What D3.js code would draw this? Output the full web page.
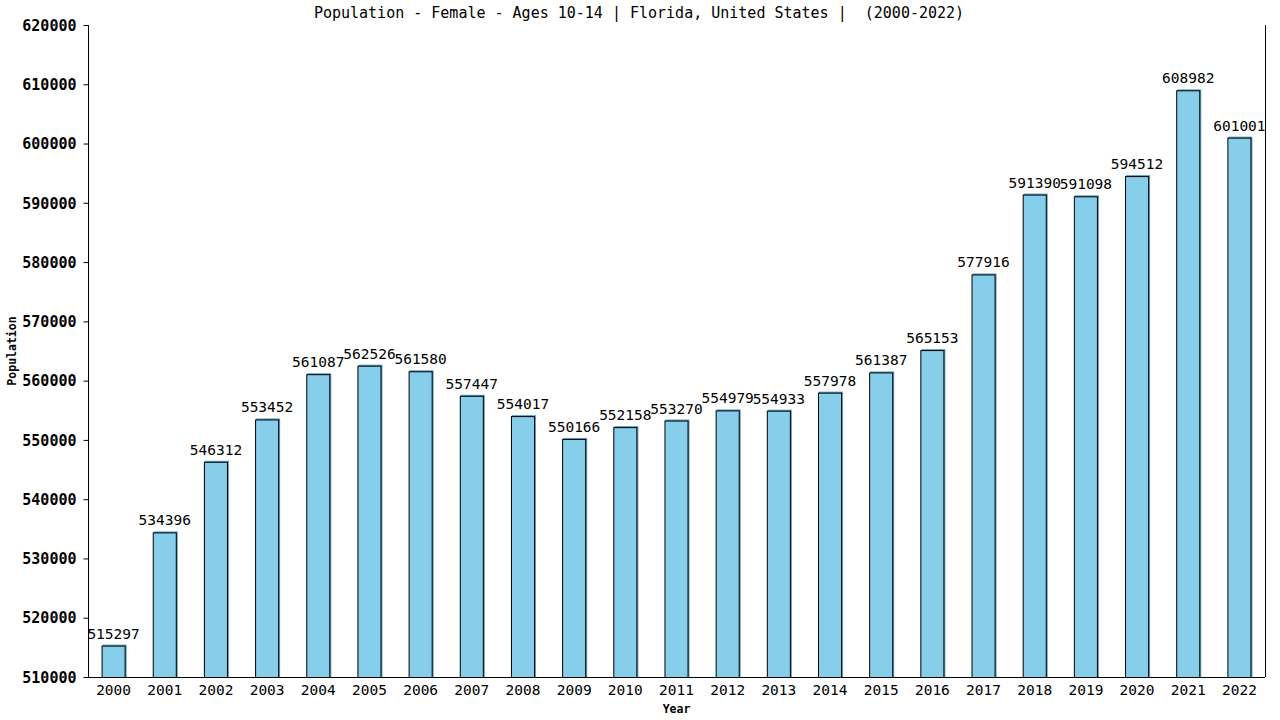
<!DOCTYPE html>
<html>
<head>
<meta charset="utf-8">
<script src="https://cdn.jsdelivr.net/npm/d3@7"></script>
<style>
  body { margin: 0; background: #fff; }
  text { font-family: "DejaVu Sans Mono", monospace; }
</style>
</head>
<body>
<svg width="1280" height="720"></svg>
<script>
// Data
const years = ["2000","2001","2002","2003","2004","2005","2006","2007","2008","2009","2010","2011",
    "2012","2013","2014","2015","2016","2017","2018","2019","2020","2021","2022"]
const population = [515297, 534396, 546312, 553452, 561087, 562526, 561580, 557447, 554017, 550166,
    552158, 553270, 554979, 554933, 557978, 561387, 565153, 577916, 591390, 591098, 594512, 608982, 601001]
const yTicks = [510000, 520000, 530000, 540000, 550000, 560000, 570000, 580000, 590000, 600000, 610000, 620000]

const svg = d3.select("svg")
const plotLeft = 88, plotRight = 1265, plotTop = 25, plotBottom = 677

const x = d3.scaleBand().domain(years).range([plotLeft, plotRight]).paddingInner(0.53).paddingOuter(0.265)
const y = d3.scaleLinear().domain([510000, 620000]).range([plotBottom, plotTop])

// Title
svg.append("text")
    .attr("x", 639).attr("y", 18)
    .attr("text-anchor", "middle")
    .style("font-size", "15px")
    .style("white-space", "pre")
    .text("Population - Female - Ages 10-14 | Florida, United States |  (2000-2022)")

// Bars: shadow then outlined bar
svg.append("g").selectAll("rect")
    .data(population)
    .join("rect")
    .attr("x", (d, i) => x(years[i]) + 1)
    .attr("y", d => y(d) - 1)
    .attr("width", x.bandwidth())
    .attr("height", d => plotBottom - y(d) + 1)
    .attr("fill", "#5f9fbf")

svg.append("g").selectAll("rect")
    .data(population)
    .join("rect")
    .attr("x", (d, i) => x(years[i]) + 0.5)
    .attr("y", d => y(d) + 0.5)
    .attr("width", x.bandwidth() - 1)
    .attr("height", d => plotBottom - y(d))
    .attr("fill", "#87ceeb")
    .attr("stroke", "#000")
    .attr("stroke-width", 1)

// Value labels
svg.append("g").selectAll("text")
    .data(population)
    .join("text")
    .attr("x", (d, i) => x(years[i]) + x.bandwidth() / 2)
    .attr("y", d => y(d) - 7)
    .attr("text-anchor", "middle")
    .style("font-size", "14.5px")
    .text(d => d)

// Y axis
const yAxis = svg.append("g")
    .attr("transform", `translate(${plotLeft + 0.5},0)`)
    .call(d3.axisLeft(y).tickValues(yTicks).tickSize(5).tickPadding(7).tickFormat(d3.format("d")))
yAxis.selectAll("text").style("font-size", "15px").style("font-weight", "bold")
    .attr("fill", "#000").attr("dy", "0.35em")
yAxis.selectAll("line, path").attr("stroke", "#000")
yAxis.select(".domain").attr("d", `M0,${plotTop}V${plotBottom}`)

// X axis
const xAxis = svg.append("g")
    .attr("transform", `translate(0,${plotBottom + 0.5})`)
    .call(d3.axisBottom(x).tickSize(0).tickPadding(7))
xAxis.selectAll("text").style("font-size", "14.5px").attr("fill", "#000")
xAxis.select(".domain").attr("stroke", "#000").attr("d", `M${plotLeft},0H${plotRight}`)

// Right border
svg.append("line")
    .attr("x1", plotRight + 0.5).attr("x2", plotRight + 0.5)
    .attr("y1", plotTop).attr("y2", plotBottom)
    .attr("stroke", "#000")

// Axis titles
svg.append("text")
    .attr("transform", `translate(16,${(plotTop + plotBottom) / 2}) rotate(-90)`)
    .attr("text-anchor", "middle")
    .style("font-size", "11.5px").style("font-weight", "bold")
    .text("Population")

svg.append("text")
    .attr("x", (plotLeft + plotRight) / 2).attr("y", 713)
    .attr("text-anchor", "middle")
    .style("font-size", "11.5px").style("font-weight", "bold")
    .text("Year")
</script>
</body>
</html>
